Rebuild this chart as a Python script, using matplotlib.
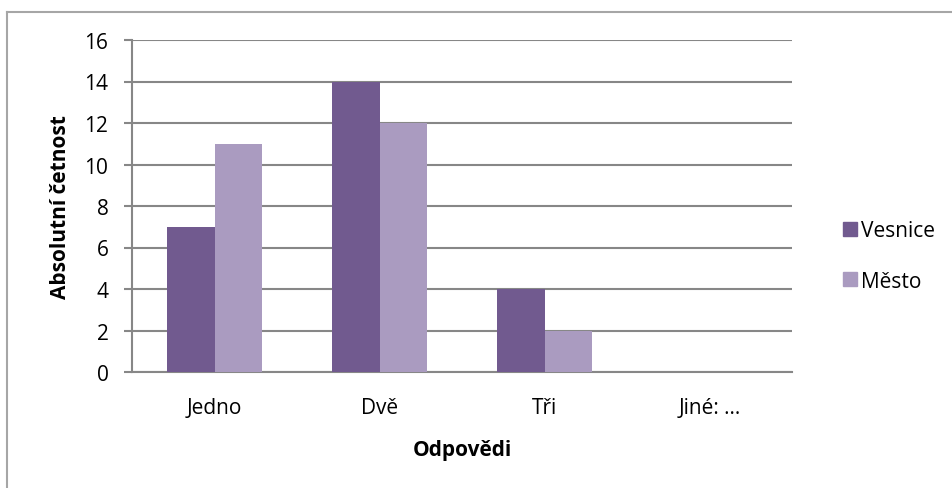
import matplotlib.pyplot as plt
import numpy as np
from matplotlib.lines import Line2D
from matplotlib.patches import Patch

# ---
# Data

categories = ["Jedno", "Dvě", "Tři", "Jiné: …"]
vesnice    = [7, 14, 4, 0]
mesto      = [11, 12, 2, 0]

plt.rcParams["font.family"] = ["Open Sans", "DejaVu Sans"]

DARK  = "#715A8F"
LIGHT = "#AA9BC0"
GRID  = "#878787"
FS    = 15

fig = plt.figure(figsize=(9.53, 4.89), dpi=100)
ax = fig.add_axes([132 / 953, 116 / 489, 660 / 953, 332 / 489])

x = np.arange(len(categories))
w = 1 / 3.5
ax.bar(x - w / 2, vesnice, width=w, color=DARK, label="Vesnice", zorder=3)
ax.bar(x + w / 2, mesto,   width=w, color=LIGHT, label="Město", zorder=3)

ax.set_xlim(-0.5, len(categories) - 0.5)
ax.set_ylim(0, 16)
ax.set_yticks(range(0, 17, 2))
ax.yaxis.grid(True, color=GRID, linewidth=1.5, zorder=0)

for s in ["top", "right"]:
    ax.spines[s].set_visible(False)
ax.spines["left"].set_color(GRID)
ax.spines["left"].set_linewidth(1.5)
ax.spines["bottom"].set_color(GRID)
ax.spines["bottom"].set_linewidth(1.5)

ax.tick_params(axis="y", length=6, width=1.5, color=GRID, pad=11, labelsize=FS)
ax.tick_params(axis="x", length=0, pad=18, labelsize=FS)
ax.set_xticks(x)
ax.set_xticklabels(categories)

ax.set_xlabel("Odpovědi", fontsize=FS, fontweight="bold", labelpad=15)
ax.set_ylabel("Absolutní četnost", fontsize=FS, fontweight="bold", labelpad=10)

handles = [Patch(color=DARK, label="Vesnice"), Patch(color=LIGHT, label="Město")]
fig.legend(handles=handles, loc="center left", bbox_to_anchor=(833 / 953, 1 - 257 / 489),
           frameon=False, fontsize=FS, handlelength=0.65, handleheight=0.65,
           handletextpad=0.2, labelspacing=1.4, borderpad=0)

# chart border (left and top visible)
fig.add_artist(Line2D([7.5 / 953, 7.5 / 953], [0, 1 - 12.5 / 489],
                      transform=fig.transFigure, color="#A6A6A6", lw=1.5))
fig.add_artist(Line2D([7.5 / 953, 1], [1 - 12.5 / 489, 1 - 12.5 / 489],
                      transform=fig.transFigure, color="#A6A6A6", lw=1.5))

fig.savefig("out.png", dpi=100)
